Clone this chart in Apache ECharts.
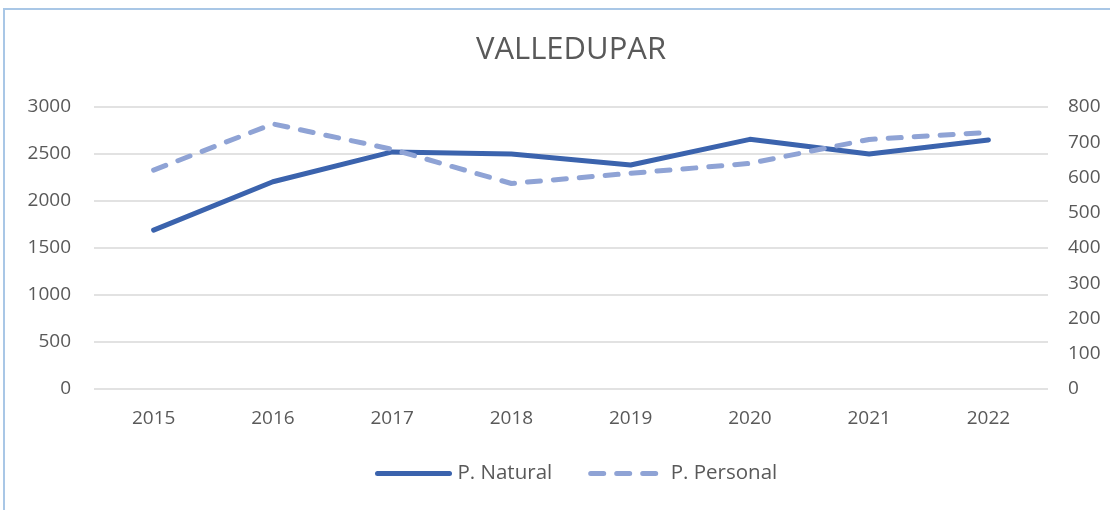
<!DOCTYPE html>
<html>
<head>
<meta charset="utf-8">
<script src="https://cdn.jsdelivr.net/npm/echarts@6/dist/echarts.min.js"></script>
<style>
  html, body { margin: 0; padding: 0; background: #fff; }
  #frame { position: absolute; left: 3px; top: 8px; width: 1120px; height: 520px;
           border-top: 2px solid #a9c7e6; border-left: 2px solid #a9c7e6; pointer-events: none; }
  #main { width: 1110px; height: 510px; }
</style>
</head>
<body>
<div id="main"></div>
<div id="frame"></div>
<script>
// datos
var years = ['2015', '2016', '2017', '2018', '2019', '2020', '2021', '2022'];
var natural = [1690, 2205, 2522, 2500, 2383, 2656, 2500, 2650];
var personal = [621, 752, 680, 583, 612, 640, 708, 728];
var leftTicks = [0, 500, 1000, 1500, 2000, 2500, 3000];
var rightTicks = [0, 100, 200, 300, 400, 500, 600, 700, 800];

var font = 'Open Sans';
var gris = '#595959';

var chart = echarts.init(document.getElementById('main'));

chart.setOption({
  animation: false,
  title: {
    text: 'VALLEDUPAR',
    left: 566,
    top: 30,
    textAlign: 'center',
    textStyle: { fontFamily: font, fontSize: 31, fontWeight: 'normal', color: gris }
  },
  legend: {
    bottom: 21,
    left: 370,
    itemWidth: 72,
    itemHeight: 14,
    itemGap: 36,
    itemStyle: { opacity: 0 },
    lineStyle: { width: 5 },
    textStyle: { fontFamily: font, fontSize: 20.5, color: gris, padding: [0, 0, 0, 3] },
    data: ['P. Natural', 'P. Personal']
  },
  grid: {
    left: 94,
    right: 62,
    top: 107,
    bottom: 121
  },
  xAxis: {
    type: 'category',
    data: years,
    axisTick: { show: false },
    axisLine: { show: false },
    axisLabel: { fontFamily: font, fontSize: 19, color: gris, margin: 20 }
  },
  yAxis: [
    {
      type: 'value',
      min: leftTicks[0],
      max: leftTicks[leftTicks.length - 1],
      interval: 500,
      axisLine: { show: false },
      axisTick: { show: false },
      axisLabel: {
        fontFamily: font, fontSize: 19, color: gris, margin: 23,
        formatter: function (v) { return String(v); }
      },
      splitLine: { lineStyle: { color: '#d9d9d9', width: 1.5 } }
    },
    {
      type: 'value',
      min: rightTicks[0],
      max: rightTicks[rightTicks.length - 1],
      interval: 100,
      axisLine: { show: false },
      axisTick: { show: false },
      axisLabel: {
        fontFamily: font, fontSize: 19, color: gris, margin: 20,
        formatter: function (v) { return String(v); }
      },
      splitLine: { show: false }
    }
  ],
  series: [
    {
      name: 'P. Natural',
      type: 'line',
      yAxisIndex: 0,
      data: natural,
      symbol: 'none',
      itemStyle: { color: '#3b63ad' },
      lineStyle: { color: '#3b63ad', width: 5, cap: 'round', join: 'round' }
    },
    {
      name: 'P. Personal',
      type: 'line',
      yAxisIndex: 1,
      data: personal,
      symbol: 'none',
      itemStyle: { color: '#8fa3d5' },
      lineStyle: { color: '#8fa3d5', width: 5, type: [13, 13], cap: 'round', join: 'round' }
    }
  ]
});
</script>
</body>
</html>
